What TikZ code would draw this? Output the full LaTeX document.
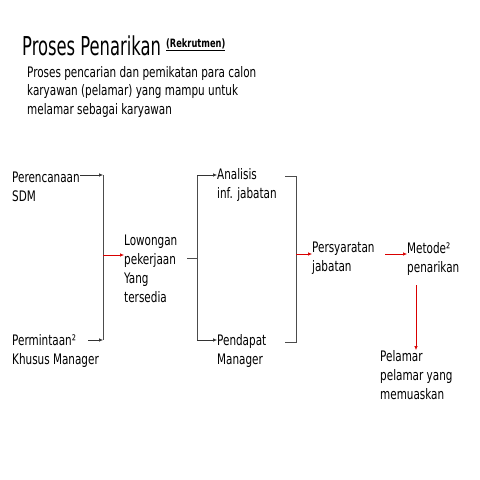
\documentclass[tikz,border=0pt]{standalone}
\usepackage{fontspec}
\setmainfont[FakeStretch=0.8]{DejaVu Sans Condensed}
\newfontfamily\titlefont[FakeStretch=0.7]{DejaVu Sans Condensed}
\usetikzlibrary{arrows.meta}
\begin{document}
\begin{tikzpicture}[x=1pt,y=-1pt]
	\tikzstyle{txt}=[anchor=north west,align=left,inner sep=0pt,font=\fontsize{14.5}{19}\selectfont]
	\tikzstyle{blk}=[-{Latex[length=4pt,width=3.5pt]},line width=0.6pt,black!80]
	\tikzstyle{redarr}=[-{Latex[length=4pt,width=3.5pt]},line width=0.6pt,red!85!black]
	\tikzstyle{brk}=[line width=0.6pt,black!70]
	\useasboundingbox[fill=white] (0,0) rectangle (480,480);
	\draw 
	node[anchor=base west,inner sep=0pt,font=\titlefont\fontsize{26}{30}\selectfont](T)at(22,55){Proses Penarikan}
	node[anchor=base west,inner sep=0pt,font=\fontsize{11.5}{12}\selectfont\bfseries](R)at(166,47){\underline{(Rekrutmen)}}
	node[txt,font=\fontsize{14.5}{18.5}\selectfont](S)at(27,66){Proses pencarian dan pemikatan para calon\\karyawan (pelamar) yang mampu untuk\\melamar sebagai karyawan}
	node[txt](A)at(12,172){Perencanaan\\SDM}
	node[txt](B)at(12,334){Permintaan²\\Khusus Manager}
	node[txt](C)at(124,235){Lowongan\\pekerjaan\\Yang\\tersedia}
	node[txt](D)at(217,168){Analisis\\inf. jabatan}
	node[txt](E)at(217,334){Pendapat\\Manager}
	node[txt](F)at(312,242){Persyaratan\\jabatan}
	node[txt](G)at(407,242){Metode²\\penarikan}
	node[txt](H)at(380,350){Pelamar\\pelamar yang\\memuaskan};
	
	\coordinate (a1) at (80,175);
	\coordinate (a2) at (103,175);
	\coordinate (b1) at (88,340);
	\coordinate (b2) at (103,340);
	\coordinate (c0) at (103,255);
	\coordinate (c1) at (187,258);
	\coordinate (c2) at (197,258);
	\coordinate (d0) at (197,175);
	\coordinate (e0) at (197,340);
	\coordinate (d1) at (285,176);
	\coordinate (d2) at (296,176);
	\coordinate (e1) at (285,342);
	\coordinate (e2) at (296,342);
	\coordinate (f0) at (296,254);
	\coordinate (g0) at (385,254);
	\coordinate (g1) at (416,285);
	
	\draw[blk](a1)--(a2);
	\draw[blk](b1)--(b2);
	\draw[brk](a2)--(b2);
	\draw[redarr](c0)--(C.west |- c0);
	\draw[brk](c1)--(c2);
	\draw[brk](d0)--(e0);
	\draw[blk](d0)--(D.west |- d0);
	\draw[blk](e0)--(E.west |- e0);
	\draw[brk](d1)--(d2)--(e2)--(e1);
	\draw[redarr](f0)--(F.west |- f0);
	\draw[redarr](g0)--(G.west |- g0);
	\draw[redarr](g1)--(g1 |- H.north);
\end{tikzpicture}
\end{document}
